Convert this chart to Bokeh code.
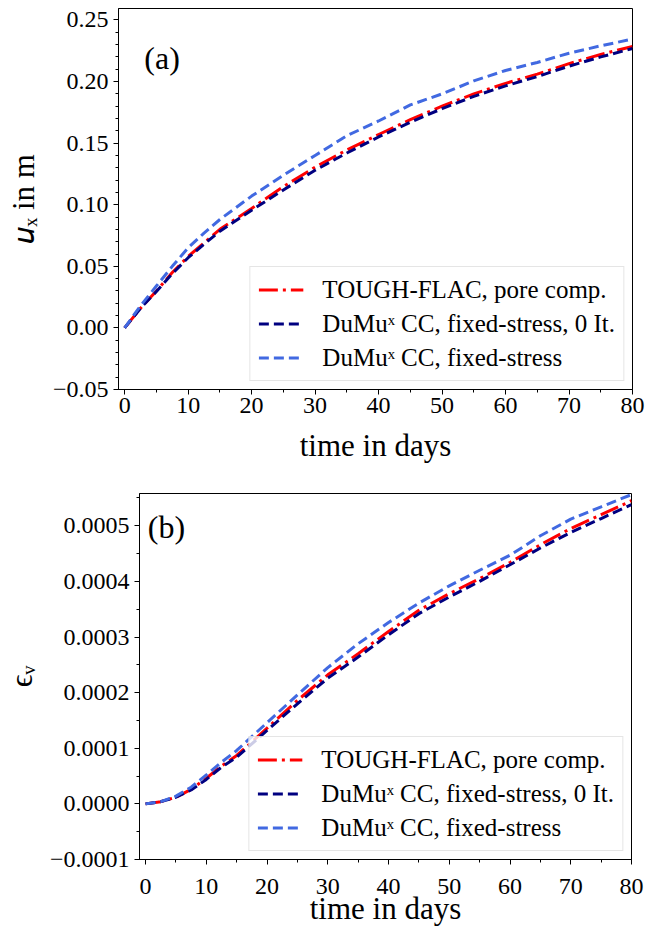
from bokeh.plotting import figure
from bokeh.models import (Legend, LegendItem, SingleIntervalTicker,
                          CustomJSTickFormatter, Label, Range1d)
from bokeh.embed import file_html
from bokeh.resources import INLINE

# ---------------- data ----------------
time_days = [0, 2.5, 5, 7.5, 10, 12.5, 15, 20, 25, 30, 35, 40, 45, 50, 55, 60, 65, 70, 75, 80]

ux_tough = [0.0, 0.016, 0.030, 0.045, 0.058, 0.069, 0.080, 0.097, 0.1147, 0.1305,
            0.1445, 0.157, 0.169, 0.180, 0.190, 0.1985, 0.206, 0.2145, 0.222, 0.2285]
ux_dumux_0it = [0.0, 0.016, 0.0295, 0.044, 0.057, 0.068, 0.0785, 0.0955, 0.112, 0.128,
                0.142, 0.155, 0.167, 0.178, 0.188, 0.1965, 0.204, 0.2125, 0.220, 0.2268]
ux_dumux_fs = [0.0, 0.018, 0.034, 0.050, 0.065, 0.077, 0.088, 0.107, 0.124, 0.140,
               0.156, 0.168, 0.181, 0.190, 0.2005, 0.209, 0.2155, 0.223, 0.229, 0.2345]

ev_tough = [0.0, 0.000004, 0.000012, 0.000026, 0.000046, 0.000068, 0.000087, 0.000136,
            0.000186, 0.000232, 0.000270, 0.000310, 0.000348, 0.000378, 0.000405,
            0.000434, 0.000466, 0.000495, 0.000520, 0.000545]
ev_dumux_0it = [0.0, 0.000004, 0.000012, 0.000025, 0.000044, 0.000066, 0.000084, 0.000132,
                0.000180, 0.000226, 0.000264, 0.000304, 0.000342, 0.000372, 0.000400,
                0.000430, 0.000460, 0.000488, 0.000513, 0.000538]
ev_dumux_fs = [0.0, 0.000004, 0.000014, 0.000030, 0.000052, 0.000075, 0.000096, 0.000146,
               0.000196, 0.000245, 0.000288, 0.000326, 0.000361, 0.000392, 0.000420,
               0.000447, 0.000482, 0.000512, 0.000534, 0.000556]

series_labels = ["TOUGH-FLAC, pore comp.",
                 "DuMuˣ CC, fixed-stress, 0 It.",
                 "DuMuˣ CC, fixed-stress"]
series_colors = ["#ff0000", "#000080", "#4169e1"]
series_dashes = ["19 5 3 5", "10 5", "10 5"]

x_label = "time in days"
y1_label = "𝑢ₓ in m"
y2_label = "ϵᵥ"
panel_labels = ["(a)", "(b)"]

FONT = "Liberation Serif"


def style_axes(p, y_step, y_minor, y_decimals, x_tick_standoff, x_axis_label_standoff,
               y_axis_label_standoff):
    p.xaxis.ticker = SingleIntervalTicker(interval=10, num_minor_ticks=2)
    p.yaxis.ticker = SingleIntervalTicker(interval=y_step, num_minor_ticks=y_minor)
    p.yaxis.formatter = CustomJSTickFormatter(
        args=dict(d=y_decimals),
        code="const s = Math.abs(tick).toFixed(d); return (tick < -1e-12 ? '\u2212' : '') + s;")
    for ax in (p.xaxis[0], p.yaxis[0]):
        ax.axis_line_color = "black"
        ax.axis_line_width = 1
        ax.major_tick_line_color = "black"
        ax.minor_tick_line_color = "black"
        ax.major_tick_out = 5
        ax.major_tick_in = 0
        ax.minor_tick_out = 3
        ax.minor_tick_in = 0
        ax.major_label_text_font = FONT
        ax.major_label_text_font_size = "24px"
        ax.major_label_text_color = "black"
        ax.axis_label_text_font = FONT
        ax.axis_label_text_font_style = "normal"
        ax.axis_label_text_font_size = "31px"
        ax.axis_label_text_color = "black"
    p.xaxis.major_label_standoff = x_tick_standoff
    p.yaxis.major_label_standoff = 5
    p.xaxis.axis_label_standoff = x_axis_label_standoff
    p.yaxis.axis_label_standoff = y_axis_label_standoff
    p.grid.visible = False
    p.outline_line_color = "black"
    p.outline_line_width = 1
    p.outline_line_alpha = 1


def add_series(p, ys):
    items = []
    for y, lab, col, dash in zip(ys, series_labels, series_colors, series_dashes):
        r = p.line(time_days, y, line_color=col, line_width=3, line_dash=dash)
        items.append(LegendItem(label=lab, renderers=[r]))
    legend = Legend(items=items, location="bottom_right",
                    label_text_font=FONT, label_text_font_size="25px",
                    label_text_color="black",
                    glyph_width=45, glyph_height=29, label_height=29,
                    label_standoff=19, spacing=5, padding=8, margin=8,
                    border_line_color="#cccccc", border_line_width=1,
                    background_fill_color="white", background_fill_alpha=0.8)
    p.add_layout(legend)


# ---------------- panel (a) ----------------
p1 = figure(width=645, height=470, output_backend="svg", toolbar_location=None,
            x_range=Range1d(-0.97, 80), y_range=Range1d(-0.05, 0.2593),
            min_border_left=118, min_border_right=13, min_border_top=8,
            min_border_bottom=81, x_axis_label=x_label, y_axis_label=y1_label,
            background_fill_color="white", border_fill_color="white")
style_axes(p1, 0.05, 5, 2, 3, 12, 9)
add_series(p1, [ux_tough, ux_dumux_0it, ux_dumux_fs])
p1.add_layout(Label(x=3.1, y=0.219, text=panel_labels[0], text_font=FONT,
                    text_font_size="32px", text_baseline="middle", text_align="left",
                    text_color="black"))

# ---------------- panel (b) ----------------
p2 = figure(width=645, height=460, output_backend="svg", toolbar_location=None,
            x_range=Range1d(-1.0, 80), y_range=Range1d(-0.0001, 0.000558),
            min_border_left=134, min_border_right=14, min_border_top=23,
            min_border_bottom=71, x_axis_label=x_label, y_axis_label=y2_label,
            background_fill_color="white", border_fill_color="white")
style_axes(p2, 0.0001, 2, 4, 14, -6, 8)
add_series(p2, [ev_tough, ev_dumux_0it, ev_dumux_fs])
p2.add_layout(Label(x=0.36, y=0.000497, text=panel_labels[1], text_font=FONT,
                    text_font_size="32px", text_baseline="middle", text_align="left",
                    text_color="black"))

# two independent roots stacked vertically (no frame alignment between them)
open("out.html", "w").write(file_html([p1, p2], INLINE))
